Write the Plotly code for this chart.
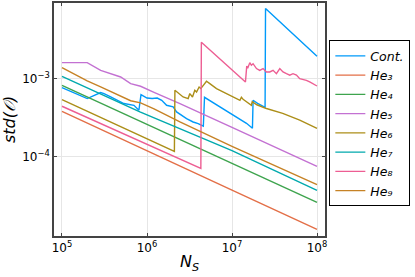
import plotly.graph_objects as go

# ---- data ----
cont_N = [1e5, 1.98e5, 2.85e5, 3.12e5, 3.74e5, 4.47e5, 5.35e5, 7.02e5, 8.03e5, 8.5e5,
          1.0e6, 1.15e6, 1.32e6, 1.49e6, 1.70e6, 2.03e6, 2.23e6, 2.92e6, 3.49e6, 4.0e6,
          4.6e6, 4.75e6, 1.0e7, 1.48e7, 1.74e7, 1.77e7, 2.0e7, 2.45e7, 2.48e7, 1e8]
cont_V = [7.76e-4, 5.61e-4, 6.70e-4, 6.50e-4, 5.88e-4, 5.33e-4, 4.84e-4, 4.60e-4, 3.97e-4, 6.31e-4,
          5.70e-4, 5.61e-4, 5.70e-4, 5.33e-4, 4.60e-4, 4.38e-4, 3.78e-4, 3.10e-4, 2.81e-4, 2.68e-4,
          2.48e-4, 5.82e-4, 3.47e-4, 2.70e-4, 2.33e-4, 5.33e-4, 4.88e-4, 4.34e-4, 7.99e-3, 1.95e-3]

he3_N = [1e5, 1e6, 1e7, 1e8]
he3_V = [3.85e-4, 1.19e-4, 3.75e-5, 1.18e-5]

he4_N = [1e5, 1e6, 1e7, 1e8]
he4_V = [8.30e-4, 2.62e-4, 8.3e-5, 2.62e-5]

he5_N = [1e5, 1.98e5, 2.85e5, 3.74e5, 4.9e5, 6.42e5, 8.41e5, 1.21e6, 2.44e6, 1e7, 1e8]
he5_V = [1.62e-3, 1.62e-3, 1.29e-3, 1.17e-3, 1.06e-3, 8.73e-4, 8.06e-4, 6.75e-4, 4.84e-4, 2.40e-4, 7.6e-5]

he6_N = [1e5, 2.10e6, 2.13e6, 2.66e6, 3.05e6, 3.19e6, 3.43e6, 3.65e6, 3.83e6, 4.10e6, 4.30e6,
         5.01e6, 5.48e6, 6.57e6, 8.61e6, 1.13e7, 1.24e7, 1.29e7, 1.35e7, 1.69e7, 1.73e7, 1.96e7,
         2.54e7, 3.95e7, 6.26e7, 1e8]
he6_V = [5.44e-4, 1.18e-4, 7.16e-4, 5.88e-4, 5.61e-4, 6.50e-4, 5.88e-4, 7.16e-4, 6.81e-4, 7.89e-4, 7.53e-4,
         9.35e-4, 8.73e-4, 7.53e-4, 6.50e-4, 5.61e-4, 5.33e-4, 5.82e-4, 5.50e-4, 4.60e-4, 5.11e-4, 4.67e-4,
         4.18e-4, 3.63e-4, 2.96e-4, 2.33e-4]

he7_N = [1e5, 8.25e5, 1e7, 1e8]
he7_V = [1.08e-3, 3.78e-4, 1.21e-4, 3.74e-5]

he8_N = [1e5, 4.30e6, 4.36e6, 1.44e7, 1.49e7, 1.53e7, 1.62e7, 1.69e7, 1.77e7, 1.94e7, 2.12e7,
         2.32e7, 2.54e7, 2.78e7, 3.04e7, 3.33e7, 3.65e7, 3.98e7, 4.37e7, 4.78e7, 5.22e7, 5.73e7,
         6.26e7, 7.50e7, 8.20e7, 1e8]
he8_V = [4.47e-4, 7.16e-5, 2.95e-3, 9.15e-4, 1.46e-3, 1.37e-3, 1.62e-3, 1.50e-3, 1.57e-3, 1.36e-3, 1.29e-3,
         1.36e-3, 1.23e-3, 1.23e-3, 1.29e-3, 1.17e-3, 1.36e-3, 1.23e-3, 1.17e-3, 1.12e-3, 1.17e-3, 1.12e-3,
         1.01e-3, 9.62e-4, 9.15e-4, 8.13e-4]

he9_N = [1e5, 1.98e5, 2.85e5, 6.42e5, 8.41e5, 1.21e6, 2.44e6, 1e7, 1e8]
he9_V = [1.40e-3, 9.48e-4, 7.94e-4, 5.26e-4, 4.95e-4, 4.15e-4, 2.81e-4, 1.37e-4, 4.43e-5]

names = ["Cont.", "He₃", "He₄", "He₅", "He₆", "He₇", "He₈", "He₉"]
colors = ["#009AFA", "#E36F47", "#3EA44E", "#C371D2", "#AC8E18", "#00A9AD", "#ED5E93", "#C68225"]
series = [(cont_N, cont_V), (he3_N, he3_V), (he4_N, he4_V), (he5_N, he5_V), (he6_N, he6_V),
          (he7_N, he7_V), (he8_N, he8_V), (he9_N, he9_V)]

x_ticks = [1e5, 1e6, 1e7, 1e8]
x_tick_text = ["10<sup>5</sup>", "10<sup>6</sup>", "10<sup>7</sup>", "10<sup>8</sup>"]
y_ticks = [1e-4, 1e-3]
y_tick_text = ["10<sup>−4</sup>", "10<sup>−3</sup>"]

fig = go.Figure()
for (xs, ys), nm, c in zip(series, names, colors):
    fig.add_trace(go.Scatter(x=xs, y=ys, mode="lines", name="<i>" + nm + "</i>",
                             line=dict(color=c, width=1.4)))

font = "DejaVu Sans"
fig.update_layout(
    width=415, height=277,
    margin=dict(l=54, r=90, t=3, b=41),
    paper_bgcolor="white", plot_bgcolor="white",
    font=dict(family=font, size=12, color="black"),
    showlegend=True,
    legend=dict(x=1.016, xanchor="left", y=0.84, yanchor="top",
                bordercolor="black", borderwidth=1, bgcolor="white",
                font=dict(family=font, size=12.5), tracegroupgap=0, itemwidth=30),
    xaxis=dict(type="log", range=[4.906, 8.094], tickvals=x_ticks, ticktext=x_tick_text,
               showgrid=True, gridcolor="#e6e6e6", gridwidth=1,
               showline=True, linecolor="#444", linewidth=1.5, mirror="allticks",
               ticks="inside", ticklen=3, tickcolor="#444", zeroline=False,
               tickfont=dict(size=12), automargin=False,
               title=dict(text="<i>N</i><sub><i>S</i></sub>", font=dict(size=16), standoff=2)),
    yaxis=dict(type="log", range=[-5.013, -2.026], tickvals=y_ticks, ticktext=y_tick_text,
               showgrid=True, gridcolor="#e6e6e6", gridwidth=1,
               showline=True, linecolor="#444", linewidth=1.5, mirror="allticks",
               ticks="inside", ticklen=3, tickcolor="#444", zeroline=False,
               tickfont=dict(size=12), automargin=False,
               title=dict(text="<i>std(𝒪)</i>", font=dict(size=16), standoff=4)),
)

fig.write_html("out.html", config={"displayModeBar": False},
               post_script="document.body.style.margin='0';")
